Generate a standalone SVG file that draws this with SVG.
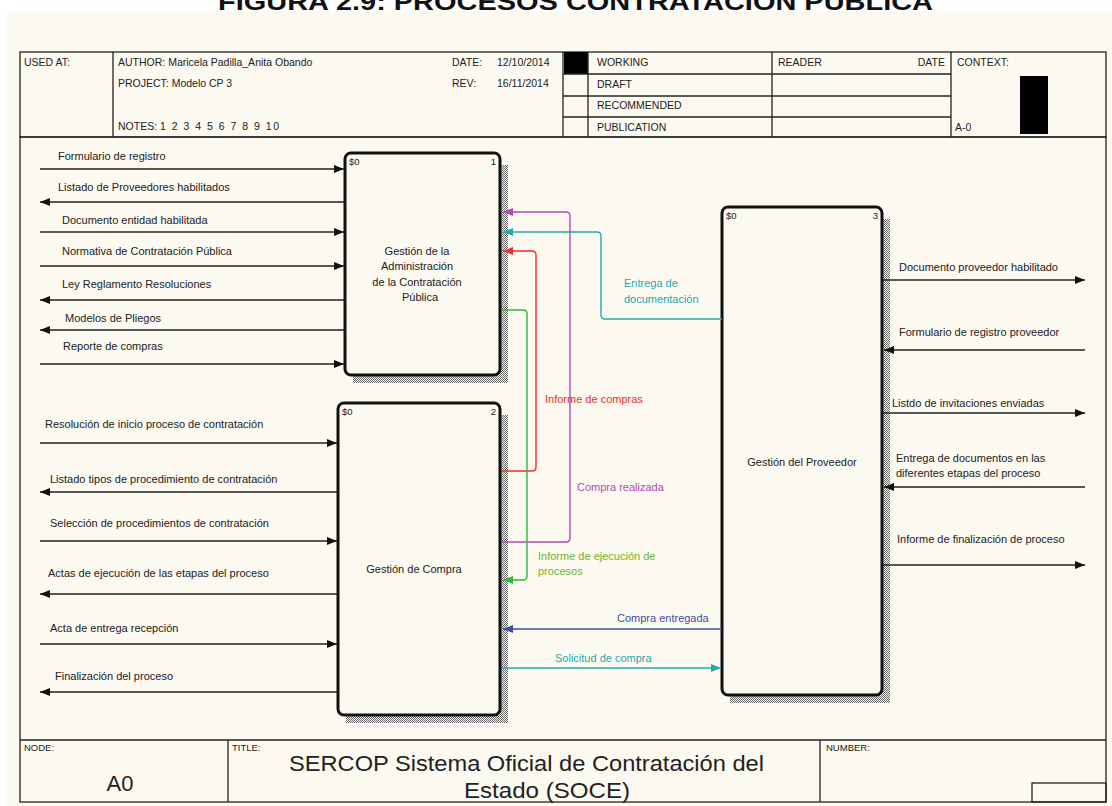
<svg xmlns="http://www.w3.org/2000/svg" width="1112" height="806" viewBox="0 0 1112 806">
<style>
.t{font-family:"Liberation Sans",Arial,sans-serif;font-size:11px;fill:#222}
.h{font-family:"Liberation Sans",Arial,sans-serif;font-size:10.5px;fill:#222}
.s{font-family:"Liberation Sans",Arial,sans-serif;font-size:9.5px;fill:#222}
.big{font-family:"Liberation Sans",Arial,sans-serif;font-size:22px;fill:#222}
.ln{fill:none;stroke:#222;stroke-width:1.3}
.box{fill:#fcf9f0;stroke:#111;stroke-width:3}
.shadow{fill:url(#dots)}
.k{stroke:#222;stroke-width:1.6;fill:none}
</style>
<defs>
<pattern id="dots" width="2" height="2" patternUnits="userSpaceOnUse">
<rect x="0" y="0" width="1" height="1" fill="#666"/>
<rect x="1" y="1" width="1" height="1" fill="#666"/>
</pattern>
<marker id="ak" viewBox="0 0 10 8" refX="10" refY="4" markerWidth="10" markerHeight="8" markerUnits="userSpaceOnUse" orient="auto"><path d="M0,0 L10,4 L0,8 z" fill="#111"/></marker>
<marker id="am" viewBox="0 0 10 8" refX="10" refY="4" markerWidth="10" markerHeight="8" markerUnits="userSpaceOnUse" orient="auto"><path d="M0,0 L10,4 L0,8 z" fill="#b04cb0"/></marker>
<marker id="ac" viewBox="0 0 10 8" refX="10" refY="4" markerWidth="10" markerHeight="8" markerUnits="userSpaceOnUse" orient="auto"><path d="M0,0 L10,4 L0,8 z" fill="#26a8ae"/></marker>
<marker id="ar" viewBox="0 0 10 8" refX="10" refY="4" markerWidth="10" markerHeight="8" markerUnits="userSpaceOnUse" orient="auto"><path d="M0,0 L10,4 L0,8 z" fill="#e8302c"/></marker>
<marker id="ag" viewBox="0 0 10 8" refX="10" refY="4" markerWidth="10" markerHeight="8" markerUnits="userSpaceOnUse" orient="auto"><path d="M0,0 L10,4 L0,8 z" fill="#34b43c"/></marker>
<marker id="ab" viewBox="0 0 10 8" refX="10" refY="4" markerWidth="10" markerHeight="8" markerUnits="userSpaceOnUse" orient="auto"><path d="M0,0 L10,4 L0,8 z" fill="#3a4fa8"/></marker>
</defs>

<rect x="0" y="0" width="1112" height="806" fill="#ffffff"/>
<rect x="7" y="11" width="1105" height="795" fill="#fcf9f0"/>
<text x="218" y="10" font-family="Liberation Sans,Arial,sans-serif" font-weight="bold" font-size="24" fill="#111" textLength="715" lengthAdjust="spacingAndGlyphs">FIGURA 2.9: PROCESOS CONTRATACIÓN PÚBLICA</text>

<g id="header">
<rect x="20" y="52" width="1086" height="85" class="ln"/>
<line x1="113" y1="52" x2="113" y2="137" class="ln"/>
<line x1="563" y1="52" x2="563" y2="137" class="ln"/>
<rect x="564" y="52" width="24" height="22" fill="#000"/>
<line x1="588" y1="52" x2="588" y2="137" class="ln"/>
<line x1="772" y1="52" x2="772" y2="137" class="ln"/>
<line x1="951" y1="52" x2="951" y2="137" class="ln"/>
<line x1="563" y1="74" x2="951" y2="74" class="ln"/>
<line x1="563" y1="96" x2="951" y2="96" class="ln"/>
<line x1="563" y1="117" x2="951" y2="117" class="ln"/>
<rect x="1020" y="76" width="28" height="58" fill="#000"/>
<text x="24" y="66" class="h">USED AT:</text>
<text x="118" y="66" class="h">AUTHOR:  Maricela Padilla_Anita Obando</text>
<text x="118" y="87" class="h">PROJECT:  Modelo CP 3</text>
<text x="118" y="130" class="h">NOTES:</text>
<text x="160" y="130" class="h" textLength="119">1  2  3  4  5  6  7  8  9  10</text>
<text x="452" y="66" class="h">DATE:</text>
<text x="497" y="66" class="h">12/10/2014</text>
<text x="452" y="87" class="h">REV:</text>
<text x="497" y="87" class="h">16/11/2014</text>
<text x="597" y="66" class="h">WORKING</text>
<text x="597" y="88" class="h">DRAFT</text>
<text x="597" y="109" class="h">RECOMMENDED</text>
<text x="597" y="131" class="h">PUBLICATION</text>
<text x="778" y="66" class="h">READER</text>
<text x="945" y="66" class="h" text-anchor="end">DATE</text>
<text x="957" y="66" class="h">CONTEXT:</text>
<text x="955" y="131" class="h">A-0</text>
</g>

<g id="frame">
<rect x="20" y="137" width="1086" height="665" class="ln"/>
<line x1="20" y1="740" x2="1106" y2="740" class="ln"/>
<line x1="228" y1="740" x2="228" y2="802" class="ln"/>
<line x1="820" y1="740" x2="820" y2="802" class="ln"/>
<rect x="1032" y="783" width="74" height="19" class="ln"/>
<text x="24" y="751" class="s">NODE:</text>
<text x="120" y="791" class="big" text-anchor="middle">A0</text>
<text x="232" y="751" class="s">TITLE:</text>
<text x="289" y="771" class="big" textLength="475" lengthAdjust="spacingAndGlyphs">SERCOP Sistema Oficial de Contratación  del</text>
<text x="464" y="798" class="big" textLength="166" lengthAdjust="spacingAndGlyphs">Estado (SOCE)</text>
<text x="826" y="751" class="s">NUMBER:</text>
</g>

<g id="node1">
<rect x="353" y="165" width="155" height="218" class="shadow"/>
<rect x="345" y="153" width="155" height="222" rx="6" class="box"/>
<text x="349" y="165" class="s">$0</text>
<text x="496" y="165" class="s" text-anchor="end">1</text>
<text x="417" y="255" class="t" text-anchor="middle">Gestión de la</text>
<text x="417" y="270" class="t" text-anchor="middle">Administración</text>
<text x="417" y="286" class="t" text-anchor="middle">de la Contratación</text>
<text x="420" y="301" class="t" text-anchor="middle">Pública</text>
</g>

<g id="node2">
<rect x="346" y="415" width="162" height="308" class="shadow"/>
<rect x="338" y="403" width="162" height="312" rx="6" class="box"/>
<text x="342" y="415" class="s">$0</text>
<text x="496" y="415" class="s" text-anchor="end">2</text>
<text x="414" y="573" class="t" text-anchor="middle">Gestión de Compra</text>
</g>

<g id="node3">
<rect x="730" y="219" width="160" height="484" class="shadow"/>
<rect x="722" y="207" width="160" height="488" rx="6" class="box"/>
<text x="726" y="219" class="s">$0</text>
<text x="878" y="219" class="s" text-anchor="end">3</text>
<text x="802" y="466" class="t" text-anchor="middle">Gestión del Proveedor</text>
</g>

<g id="connectors">
<line x1="40" y1="169" x2="344" y2="169" class="k" marker-end="url(#ak)"/>
<line x1="345" y1="202" x2="40" y2="202" class="k" marker-end="url(#ak)"/>
<line x1="40" y1="232" x2="344" y2="232" class="k" marker-end="url(#ak)"/>
<line x1="40" y1="266" x2="344" y2="266" class="k" marker-end="url(#ak)"/>
<line x1="345" y1="300" x2="40" y2="300" class="k" marker-end="url(#ak)"/>
<line x1="345" y1="330" x2="40" y2="330" class="k" marker-end="url(#ak)"/>
<line x1="40" y1="364" x2="344" y2="364" class="k" marker-end="url(#ak)"/>

<line x1="40" y1="443" x2="337" y2="443" class="k" marker-end="url(#ak)"/>
<line x1="338" y1="492" x2="40" y2="492" class="k" marker-end="url(#ak)"/>
<line x1="40" y1="541" x2="337" y2="541" class="k" marker-end="url(#ak)"/>
<line x1="338" y1="594" x2="40" y2="594" class="k" marker-end="url(#ak)"/>
<line x1="40" y1="644" x2="337" y2="644" class="k" marker-end="url(#ak)"/>
<line x1="338" y1="692" x2="40" y2="692" class="k" marker-end="url(#ak)"/>

<line x1="883" y1="280" x2="1085" y2="280" class="k" marker-end="url(#ak)"/>
<line x1="1085" y1="350" x2="884" y2="350" class="k" marker-end="url(#ak)"/>
<line x1="883" y1="413" x2="1085" y2="413" class="k" marker-end="url(#ak)"/>
<line x1="1085" y1="487" x2="884" y2="487" class="k" marker-end="url(#ak)"/>
<line x1="883" y1="565" x2="1085" y2="565" class="k" marker-end="url(#ak)"/>

<path d="M502,542 H566 Q570,542 570,538 V216 Q570,212 566,212 H503" fill="none" stroke="#b04cb0" stroke-width="1.4" marker-end="url(#am)"/>
<path d="M722,319 H605 Q601,319 601,315 V236 Q601,232 597,232 H503" fill="none" stroke="#26a8ae" stroke-width="1.4" marker-end="url(#ac)"/>
<path d="M502,471 H532 Q536,471 536,467 V255 Q536,251 532,251 H503" fill="none" stroke="#e8302c" stroke-width="1.4" marker-end="url(#ar)"/>
<path d="M502,310 H523 Q527,310 527,314 V576 Q527,580 523,580 H503" fill="none" stroke="#34b43c" stroke-width="1.4" marker-end="url(#ag)"/>
<line x1="722" y1="629" x2="503" y2="629" stroke="#3a4fa8" stroke-width="1.4" marker-end="url(#ab)"/>
<line x1="502" y1="668" x2="721" y2="668" stroke="#26a8ae" stroke-width="1.4" marker-end="url(#ac)"/>

<text x="58" y="160" class="t">Formulario de registro</text>
<text x="58" y="191" class="t">Listado de Proveedores habilitados</text>
<text x="62" y="224" class="t">Documento entidad habilitada</text>
<text x="62" y="255" class="t">Normativa de Contratación Pública</text>
<text x="62" y="288" class="t">Ley Reglamento Resoluciones</text>
<text x="65" y="322" class="t">Modelos de Pliegos</text>
<text x="63" y="350" class="t">Reporte de compras</text>
<text x="45" y="428" class="t">Resolución de inicio proceso de contratación</text>
<text x="50" y="483" class="t">Listado tipos de procedimiento de contratación</text>
<text x="50" y="527" class="t">Selección de procedimientos de contratación</text>
<text x="48" y="577" class="t">Actas de ejecución de las etapas del proceso</text>
<text x="50" y="632" class="t">Acta de entrega recepción</text>
<text x="55" y="680" class="t">Finalización del proceso</text>
<text x="899" y="271" class="t">Documento proveedor habilitado</text>
<text x="899" y="336" class="t">Formulario de registro proveedor</text>
<text x="892" y="407" class="t">Listdo de invitaciones enviadas</text>
<text x="896" y="462" class="t">Entrega de documentos en las</text>
<text x="896" y="477" class="t">diferentes etapas del proceso</text>
<text x="897" y="543" class="t">Informe de finalización de proceso</text>
<text x="624" y="287" class="t" style="fill:#26a8ae">Entrega de</text>
<text x="624" y="303" class="t" style="fill:#26a8ae">documentación</text>
<text x="545" y="403" class="t" style="fill:#e8302c">Informe de compras</text>
<text x="577" y="491" class="t" style="fill:#b04cb0">Compra realizada</text>
<text x="538" y="560" class="t" style="fill:#6cb52c">Informe de ejecución de</text>
<text x="538" y="575" class="t" style="fill:#6cb52c">procesos</text>
<text x="617" y="622" class="t" style="fill:#3a4fa8">Compra entregada</text>
<text x="555" y="662" class="t" style="fill:#26a8ae">Solicitud de compra</text>
</g>
</svg>
